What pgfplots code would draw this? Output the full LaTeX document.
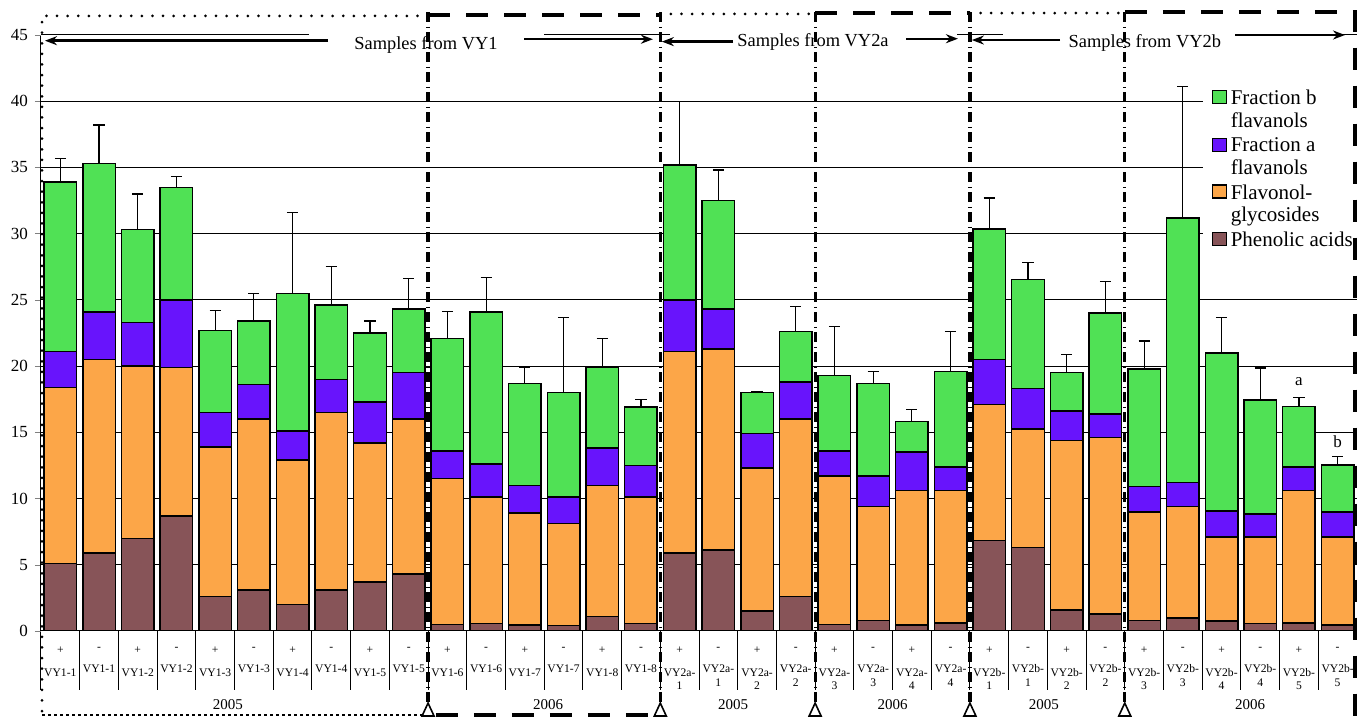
\documentclass[border=0pt]{standalone}
\usepackage{fontspec}
\setmainfont{Liberation Serif}
\usepackage{pgfplots}
\pgfplotsset{compat=1.18}
\usepackage{pgfplotstable}
\usetikzlibrary{arrows.meta}

\definecolor{cB}{RGB}{80,225,85}
\definecolor{cA}{RGB}{104,20,252}
\definecolor{cF}{RGB}{252,166,72}
\definecolor{cP}{RGB}{135,84,88}

% segments: P phenolic acids, F flavonol-glycosides, A fraction a, B fraction b; T total, E error
\pgfplotstableread{
x  P     F      A     B      T      E
0  5.1   13.3   2.7   12.8   33.9   1.8
1  5.9   14.6   3.6   11.2   35.3   2.9
2  7.0   13.0   3.3   7.0    30.3   2.7
3  8.7   11.2   5.1   8.5    33.5   0.8
4  2.6   11.3   2.6   6.2    22.7   1.5
5  3.1   12.9   2.6   4.8    23.4   2.1
6  2.0   10.9   2.2   10.4   25.5   6.1
7  3.1   13.4   2.5   5.6    24.6   2.9
8  3.7   10.5   3.1   5.2    22.5   0.9
9  4.3   11.7   3.5   4.8    24.3   2.3
10 0.5   11.0   2.1   8.5    22.1   2.0
11 0.55  9.55   2.5   11.5   24.1   2.6
12 0.45  8.45   2.1   7.7    18.7   1.2
13 0.4   7.7    2.0   7.9    18.0   5.7
14 1.1   9.9    2.8   6.1    19.9   2.2
15 0.55  9.55   2.4   4.4    16.9   0.6
16 5.9   15.2   3.9   10.2   35.2   4.8
17 6.1   15.2   3.0   8.2    32.5   2.3
18 1.5   10.8   2.6   3.1    18.0   0.1
19 2.6   13.4   2.8   3.8    22.6   1.9
20 0.5   11.2   1.9   5.7    19.3   3.7
21 0.8   8.6    2.3   7.0    18.7   0.9
22 0.45  10.15  2.9   2.3    15.8   0.9
23 0.6   10.0   1.8   7.2    19.6   3.0
24 6.85  10.25  3.4   9.85   30.35  2.35
25 6.3   8.95   3.05  8.25   26.55  1.25
26 1.6   12.8   2.2   2.9    19.5   1.4
27 1.3   13.3   1.8   7.6    24.0   2.4
28 0.8   8.2    1.9   8.9    19.8   2.1
29 1.0   8.4    1.8   20.0   31.2   9.9
30 0.75  6.35   1.95  11.95  21.0   2.7
31 0.55  6.55   1.75  8.6    17.45  2.4
32 0.6   10.0   1.8   4.55   16.95  0.7
33 0.45  6.65   1.9   3.55   12.55  0.65
}\data

\tikzset{
  dotbox/.style={line width=1.5pt, dash pattern=on 0pt off 5.3pt, line cap=round},
  dashbox/.style={line width=1.6pt, dash pattern=on 11pt off 8pt},
  ddline/.style={line width=1.6pt, dash pattern=on 5pt off 2.2pt on 0.6pt off 2.2pt},
  arr/.style={line width=1.2pt, -{Stealth[length=6pt,width=4.5pt]}},
}

\begin{document}
\begin{tikzpicture}
\begin{axis}[
  scale only axis, width=658pt, height=298pt,
  xmin=-0.5, xmax=33.5, ymin=0, ymax=45,
  enlargelimits=false,
  ybar stacked, bar width=0.84,
  axis lines=left, axis line style={-, black, line width=0.5pt},
  tick align=outside, major tick length=3pt,
  ytick={0,5,...,40}, extra y ticks={45}, extra y tick style={grid=none},
  ymajorgrids, major grid style={black, line width=0.5pt},
  yticklabel style={font=\fontsize{8.5}{10}\selectfont, /pgf/number format/assume math mode=true},
  xtick={0,...,33},
  major x tick style={draw=none},
  minor xtick={-0.5,0.5,...,33.5},
  minor tick length=29.5pt,
  minor x tick style={black, line width=0.5pt},
  xticklabel style={font=\fontsize{5.8}{6.65}\selectfont, align=center, anchor=north, yshift=-1.5pt},
  xticklabels={
    {+\\[4.7pt]VY1-1},{-\\[4.7pt]VY1-1},{+\\[4.7pt]VY1-2},{-\\[4.7pt]VY1-2},
    {+\\[4.7pt]VY1-3},{-\\[4.7pt]VY1-3},{+\\[4.7pt]VY1-4},{-\\[4.7pt]VY1-4},
    {+\\[4.7pt]VY1-5},{-\\[4.7pt]VY1-5},{+\\[4.7pt]VY1-6},{-\\[4.7pt]VY1-6},
    {+\\[4.7pt]VY1-7},{-\\[4.7pt]VY1-7},{+\\[4.7pt]VY1-8},{-\\[4.7pt]VY1-8},
    {+\\[4.7pt]VY2a-\\1},{-\\[4.7pt]VY2a-\\1},{+\\[4.7pt]VY2a-\\2},{-\\[4.7pt]VY2a-\\2},
    {+\\[4.7pt]VY2a-\\3},{-\\[4.7pt]VY2a-\\3},{+\\[4.7pt]VY2a-\\4},{-\\[4.7pt]VY2a-\\4},
    {+\\[4.7pt]VY2b-\\1},{-\\[4.7pt]VY2b-\\1},{+\\[4.7pt]VY2b-\\2},{-\\[4.7pt]VY2b-\\2},
    {+\\[4.7pt]VY2b-\\3},{-\\[4.7pt]VY2b-\\3},{+\\[4.7pt]VY2b-\\4},{-\\[4.7pt]VY2b-\\4},
    {+\\[4.7pt]VY2b-\\5},{-\\[4.7pt]VY2b-\\5}},
  reverse legend,
  legend style={at={(axis cs:29.5,41.5)}, anchor=north west, draw=none, fill=white,
    inner xsep=4.5pt, inner ysep=4pt, font=\fontsize{10.5}{10}\selectfont,
    nodes={inner sep=0pt}, cells={anchor=north west, align=left},
    row sep=3.35pt, column sep=2pt},
  legend image code/.code={\draw[#1,draw=black,line width=0.6pt] (0pt,-7pt) rectangle (7pt,-0.5pt);},
]
\addplot[fill=cP, draw=black, line width=0.75pt] table[x=x,y=P]{\data};
\addlegendentry{\strut Phenolic acids\strut}
\addplot[fill=cF, draw=black, line width=0.75pt] table[x=x,y=F]{\data};
\addlegendentry{\strut Flavonol-\\glycosides\strut}
\addplot[fill=cA, draw=black, line width=0.75pt] table[x=x,y=A]{\data};
\addlegendentry{\strut Fraction a\\flavanols\strut}
\addplot[fill=cB, draw=black, line width=0.75pt] table[x=x,y=B]{\data};
\addlegendentry{\strut Fraction b\\flavanols\strut}
\end{axis}

\begin{axis}[
  scale only axis, width=658pt, height=298pt,
  xmin=-0.5, xmax=33.5, ymin=0, ymax=45,
  enlargelimits=false, hide axis, clip=false,
]
\addplot[draw=none, mark=none, forget plot,
  error bars/.cd, y dir=plus, y explicit, error mark=|,
  error bar style={draw=black, solid, line width=0.6pt},
  error mark options={draw=black, solid, line width=0.6pt, mark size=2.8pt}]
  table[x=x, y=T, y error=E]{\data};

% partial gridline at 45
\draw[black, line width=0.5pt] (axis cs:-0.5,45) -- (axis cs:6.425,45);
\draw[black, line width=0.5pt] (axis cs:12.497,45) -- (axis cs:15.75,45);
\draw[black, line width=0.5pt] (axis cs:23.17,45) -- (axis cs:24.36,45);
\draw[black, line width=0.5pt] (axis cs:33.07,45) -- (axis cs:33.5,45);

% group boxes
\draw[dotbox] (axis cs:9.5,46.44) -- (axis cs:-0.474,46.44) -- (axis cs:-0.474,-6.34);
\draw[line width=0.6pt, dash pattern=on 1.5pt off 1.5pt] (axis cs:-0.474,-6.34) -- (axis cs:9.5,-6.34);
\draw[dashbox] (axis cs:9.5,46.51) -- (axis cs:15.5,46.51);
\draw[dashbox] (axis cs:9.7,-6.34) -- (axis cs:15.4,-6.34);
\draw[dotbox] (axis cs:15.5,46.59) -- (axis cs:19.5,46.59);
\draw[dashbox] (axis cs:19.5,46.66) -- (axis cs:23.5,46.66);
\draw[dotbox] (axis cs:23.5,46.66) -- (axis cs:27.5,46.66);
\draw[dashbox] (axis cs:27.5,46.74) -- (axis cs:33.45,46.74) -- (axis cs:33.45,-6.49);

% dash-dot separators with triangles
\pgfplotsinvokeforeach{9.5,15.5,19.5,23.5,27.5}{
  \draw[ddline] (axis cs:#1,46.7) -- (axis cs:#1,-5.44);
  \draw[line width=0.8pt, fill=white] (axis cs:#1-0.155,-6.42) -- (axis cs:#1+0.155,-6.42) -- (axis cs:#1,-5.44) -- cycle;
}

% top annotations
\draw[arr] (axis cs:6.915,44.57) -- (axis cs:-0.397,44.57);
\draw[arr] (axis cs:11.98,44.68) -- (axis cs:15.31,44.68);
\draw[arr] (axis cs:17.38,44.50) -- (axis cs:15.54,44.50);
\draw[arr] (axis cs:21.85,44.72) -- (axis cs:23.19,44.72);
\draw[arr] (axis cs:25.83,44.62) -- (axis cs:23.55,44.62);
\draw[arr] (axis cs:30.35,45.0) -- (axis cs:33.19,45.0);
\node[anchor=base, font=\fontsize{9.2}{11}\selectfont] at (axis cs:9.447,43.87) {Samples from VY1};
\node[anchor=base, font=\fontsize{9.2}{11}\selectfont] at (axis cs:19.445,44.1) {Samples from VY2a};
\node[anchor=base, font=\fontsize{9.2}{11}\selectfont] at (axis cs:28.02,44.04) {Samples from VY2b};

% year labels
\node[anchor=base, font=\fontsize{7.5}{9}\selectfont] at (axis cs:4.33,-5.965) {2005};
\node[anchor=base, font=\fontsize{7.5}{9}\selectfont] at (axis cs:12.6,-5.965) {2006};
\node[anchor=base, font=\fontsize{7.5}{9}\selectfont] at (axis cs:17.38,-5.965) {2005};
\node[anchor=base, font=\fontsize{7.5}{9}\selectfont] at (axis cs:21.5,-5.965) {2006};
\node[anchor=base, font=\fontsize{7.5}{9}\selectfont] at (axis cs:25.41,-5.965) {2005};
\node[anchor=base, font=\fontsize{7.5}{9}\selectfont] at (axis cs:30.74,-5.965) {2006};

% letters
\node[anchor=base, font=\fontsize{8.5}{10}\selectfont] at (axis cs:32,18.57) {a};
\node[anchor=base, font=\fontsize{8.5}{10}\selectfont] at (axis cs:33,13.84) {b};
\end{axis}
\pgfresetboundingbox
\path[use as bounding box] (-20.5pt,-43pt) rectangle (658pt,315.5pt);
\end{tikzpicture}
\end{document}
